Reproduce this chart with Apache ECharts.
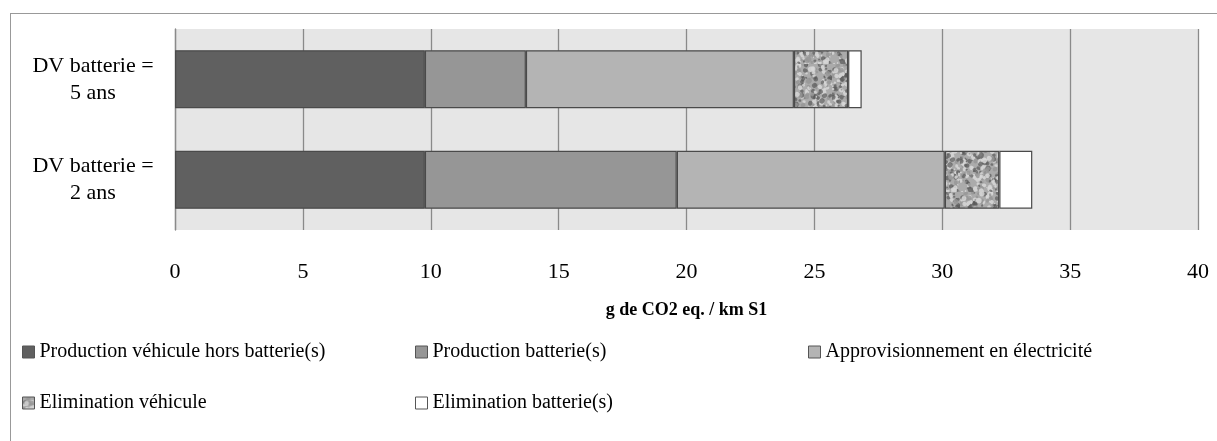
<!DOCTYPE html>
<html>
<head>
<meta charset="utf-8">
<script src="https://cdn.jsdelivr.net/npm/echarts@6/dist/echarts.min.js"></script>
<style>
html,body{margin:0;padding:0;background:#fff;}
#frame{position:absolute;left:10px;top:13px;width:1300px;height:600px;border-left:1px solid #999;border-top:1px solid #999;}
#chart{position:absolute;left:0;top:0;width:1217px;height:441px;}
</style>
</head>
<body>
<div id="frame"></div>
<div id="chart"></div>
<script>
const categories = ['DV batterie =\n2 ans', 'DV batterie =\n5 ans'];
const seriesNames = ['Production véhicule hors batterie(s)', 'Production batterie(s)', 'Approvisionnement en électricité', 'Elimination véhicule', 'Elimination batterie(s)'];
const prodVehicule = [9.77, 9.77];
const prodBatterie = [9.85, 3.95];
const electricite = [10.48, 10.48];
const elimVehicule = [2.13, 2.12];
const elimBatterie = [1.29, 0.53];
const xTicks = [0, 5, 10, 15, 20, 25, 30, 35, 40];
const axisTitle = 'g de CO2 eq. / km S1';

// deterministic mottled texture
function makeTexture() {
  const c = document.createElement('canvas');
  c.width = 64; c.height = 64;
  const g = c.getContext('2d');
  g.fillStyle = '#ababab';
  g.fillRect(0, 0, 64, 64);
  function h(i, k) { const v = Math.sin(i * 127.1 + k * 311.7) * 43758.5453; return v - Math.floor(v); }
  for (let i = 0; i < 380; i++) {
    const x = h(i, 1) * 64, y = h(i, 2) * 64, r = 0.8 + h(i, 3) * 2.0;
    const t = h(i, 4);
    g.fillStyle = t < 0.35 ? 'rgba(90,90,90,0.7)' : (t < 0.6 ? 'rgba(150,150,150,0.8)' : 'rgba(215,215,215,0.85)');
    g.beginPath(); g.ellipse(x, y, r, r * (0.6 + h(i, 5) * 0.6), h(i, 6) * 3, 0, Math.PI * 2); g.fill();
  }
  return c;
}
const tex = makeTexture();

const colors = ['#606060', '#969696', '#b4b4b4', {image: tex, repeat: 'repeat'}, '#ffffff'];
const dataSets = [prodVehicule, prodBatterie, electricite, elimVehicule, elimBatterie];

const chart = echarts.init(document.getElementById('chart'), null, {renderer: 'canvas'});
const font = 'Liberation Serif, Times New Roman, serif';

const legendPos = [
  {left: 22, top: 342},
  {left: 415, top: 342},
  {left: 808, top: 342},
  {left: 22, top: 393},
  {left: 415, top: 393}
];

const option = {
  animation: false,
  grid: {left: 175, right: 19, top: 29, bottom: 211, show: true, backgroundColor: '#e6e6e6', borderWidth: 0},
  xAxis: {
    type: 'value', min: 0, max: 40, interval: 5,
    axisLine: {show: false}, axisTick: {show: false},
    splitLine: {show: true, lineStyle: {color: '#8a8a8a', width: 1.3}},
    axisLabel: {fontFamily: font, fontSize: 22, color: '#000', margin: 31,
      formatter: v => xTicks.includes(v) ? String(v) : ''},
    name: axisTitle, nameLocation: 'middle', nameGap: 71,
    nameTextStyle: {fontFamily: font, fontSize: 18, fontWeight: 'bold', color: '#000'}
  },
  yAxis: {
    type: 'category', data: categories,
    axisLine: {show: true, lineStyle: {color: '#8a8a8a', width: 1.3}},
    axisTick: {show: false},
    axisLabel: {fontFamily: font, fontSize: 22, color: '#000', align: 'center', margin: 82, lineHeight: 27}
  },
  legend: legendPos.map((p, i) => ({
    data: [seriesNames[i]], left: p.left, top: p.top, itemWidth: 12, itemHeight: 12, itemGap: 0,
    padding: 0, icon: 'rect',
    itemStyle: {borderColor: '#555', borderWidth: 1},
    textStyle: {fontFamily: font, fontSize: 20, color: '#000'},
    selectedMode: false
  })),
  series: dataSets.map((d, i) => ({
    name: seriesNames[i], type: 'bar', stack: 'total', data: d, barWidth: 58,
    itemStyle: {color: colors[i], borderColor: '#4a4a4a', borderWidth: 1.2},
    emphasis: {disabled: true}
  }))
};
chart.setOption(option);
</script>
</body>
</html>
